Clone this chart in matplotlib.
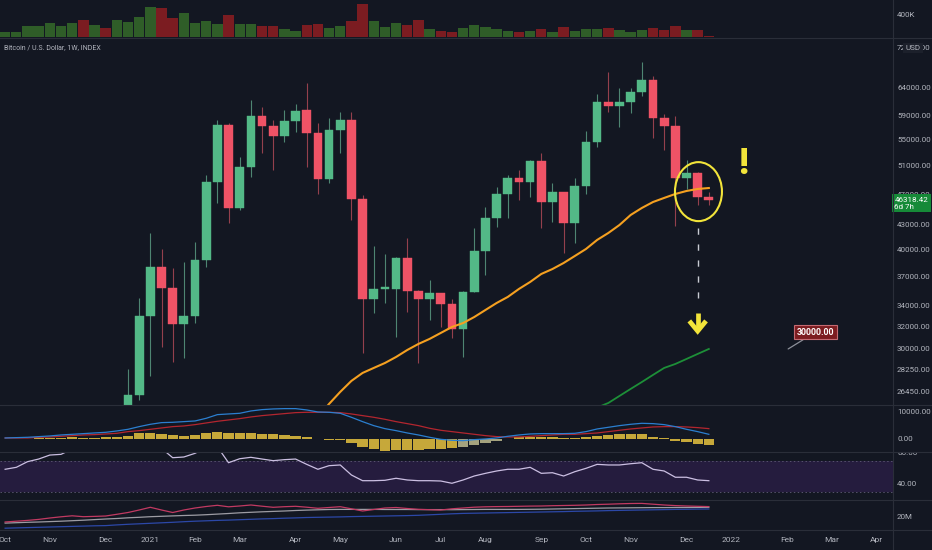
import numpy as np
import matplotlib
matplotlib.use('Agg')
import matplotlib.pyplot as plt
from matplotlib import transforms
from matplotlib.patches import Ellipse
from matplotlib.lines import Line2D

plt.rcParams['font.family'] = ['Roboto', 'DejaVu Sans']

# ---- data (weekly bars, index 0 = week of 21 Dec 2020) ----
bar_idx = np.arange(-11, 53)
opens = [10670, 11370, 11500, 13030, 13800, 15480, 15960, 18400, 18180, 19360, 19170,
         23800, 26240, 33020, 38110, 35790, 32260, 33020, 38860, 48700, 57600,
         45240, 50990, 59090, 57340, 55780, 58230, 60100, 56250, 49130, 56680,
         58400, 46400, 34660, 35690, 35700, 39050, 35540, 34660, 35270, 34200,
         31770, 35440, 39850, 43900, 47040, 49300, 48790, 51840, 46030, 47310,
         43230, 48230, 54710, 61580, 60870, 61480, 63350, 65600, 58750, 57340,
         49360, 50110, 46630]
highs = [11490, 11720, 13200, 14030, 15960, 16480, 18810, 19480, 19910, 19400, 24300,
         28300, 34800, 42000, 40080, 37930, 38670, 40980, 49740, 58340, 57800,
         52460, 61790, 60680, 58340, 60100, 61150, 65050, 57820, 58660, 59810,
         59810, 46900, 40500, 39540, 39230, 41390, 35600, 36660, 35300, 34660,
         35500, 42600, 45380, 48090, 49740, 50490, 51900, 53000, 48540, 47400,
         49280, 56530, 62870, 67180, 64000, 64000, 69140, 66300, 59450, 59000,
         52000, 50200, 47340]
lows = [10540, 11200, 11420, 12950, 13220, 14800, 15800, 16200, 18000, 17580, 19000,
        22400, 25900, 27700, 30200, 28910, 29200, 32330, 38110, 45820, 43230,
        45000, 49400, 53090, 50490, 54790, 56410, 50990, 47080, 48540, 52990,
        43650, 29630, 33340, 34260, 31040, 33440, 28780, 32640, 32010, 30950,
        29340, 35400, 37200, 42810, 43940, 46260, 46600, 42600, 43430, 39620,
        40790, 47040, 54020, 59720, 57220, 59630, 62560, 55360, 53500, 42930,
        47760, 45600, 45600]
closes = [11370, 11500, 13030, 13800, 15480, 15960, 18400, 18180, 19150, 19170, 23800,
          26240, 33020, 38110, 35790, 32260, 33020, 38860, 48700, 57510, 45240,
          50990, 59090, 57340, 55780, 58230, 59980, 56250, 49130, 56680, 58340,
          46400, 34660, 35690, 35900, 39050, 35540, 34660, 35270, 34190, 31770,
          35440, 39850, 43900, 47040, 49280, 48790, 51840, 46030, 47310, 43230,
          48230, 54710, 61580, 60870, 61480, 63350, 65600, 58750, 57340, 49360,
          50110, 46630, 46318]
volume_k = [102, 90, 203, 203, 264, 203, 264, 310, 221, 161, 310,
            282, 359, 538, 520, 341, 431, 264, 300, 239, 400, 239, 239, 210, 210,
            144, 120, 221, 239, 161, 203, 300, 597, 300, 179, 251, 221, 310, 144,
            113, 102, 161, 221, 192, 144, 113, 95, 113, 144, 102, 192, 120, 144,
            144, 161, 131, 102, 131, 161, 131, 203, 131, 131, 23]

ma_orange_idx = np.arange(17, 53)
ma_orange = [24600, 25570, 26480, 27340, 27980, 28390, 28800, 29310, 29910, 30440,
             30890, 31430, 31980, 32350, 32920, 33600, 34290, 34900, 35720, 36450,
             37310, 37850, 38520, 39310, 40120, 41190, 42030, 43020, 44290, 45200,
             45990, 46540, 47080, 47490, 47770, 47900]
ma_green_idx = np.arange(42, 53)
ma_green = [25300, 25640, 26170, 26710, 27250, 27820, 28390, 28720, 29140, 29570, 30000]

macd = [494, 618, 741, 988, 1235, 1606, 1853, 2100, 2347, 2594, 3088,
        3705, 4693, 5558, 6175, 6299, 6546, 6793, 7781, 9139, 9386, 9633, 10498,
        10992, 11239, 11362, 11362, 10868, 10127, 10004, 9633, 8151, 6546, 5064,
        3952, 3211, 2347, 1606, 741, 0, -371, -494, -124, 124, 494, 1112, 1606,
        1976, 2100, 2100, 2100, 2223, 2841, 3829, 4446, 5064, 5558, 5928, 5805,
        5434, 4693, 3705, 2841, 1853]
signal = [494, 494, 494, 741, 865, 1112, 1359, 1606, 1729, 1976, 2223,
          2841, 3211, 3705, 4199, 4693, 4940, 5434, 6052, 6669, 7163, 7657, 8275,
          8769, 9139, 9510, 9880, 10004, 10004, 10004, 9880, 9386, 8769, 8151,
          7410, 6546, 5805, 5064, 4076, 3335, 2841, 2347, 1853, 1359, 988, 865,
          865, 1112, 1359, 1606, 1853, 1853, 2100, 2347, 2841, 3335, 3829, 4199,
          4570, 4693, 4693, 4570, 4323, 3952]
macd_hist = [124, 124, 247, 371, 494, 618, 741, 618, 618, 741, 988,
             1235, 2223, 2223, 1976, 1606, 1359, 1606, 2223, 2841, 2223, 2223, 2223,
             2100, 1853, 1482, 1235, 741, 0, -124, -247, -1235, -2717, -3705,
             -4199, -3952, -3952, -3952, -3705, -3458, -3335, -2964, -2100, -1235,
             -494, 247, 741, 988, 741, 741, 371, 371, 741, 1359, 1606, 1853, 1853,
             1853, 988, 618, -494, -865, -1729, -2100]
rsi = [59.2, 61.7, 68.9, 72.3, 77.4, 78.3, 85, 84, 86, 84, 90,
       92, 94, 93, 86, 74.0, 74.9, 79.6, 87, 88, 67.6, 72.7, 74.5, 72.3, 70.2,
       71.5, 72.3, 65.5, 59.2, 63.8, 64.7, 51.9, 44.6, 44.6, 45.1, 47.7, 45.5,
       44.6, 44.6, 44.2, 41.3, 45.5, 50.6, 54.0, 57.0, 59.2, 59.2, 61.7, 54.0,
       54.8, 50.6, 56.1, 60.4, 65.5, 64.7, 64.7, 66.3, 67.6, 59.2, 57.0, 49.0,
       49.0, 45.5, 44.6]
ind_pink = [14.7, 15.5, 16.3, 17.3, 18.7, 19.9, 20.9, 20.0, 20.3, 20.7, 22.4,
            24.2, 26.7, 29.4, 26.7, 24.2, 26.7, 28.7, 30.2, 31.4, 29.9, 30.7, 31.7,
            30.5, 29.4, 30.0, 30.4, 29.5, 28.4, 29.2, 30.0, 27.9, 25.7, 27.2, 28.7,
            29.2, 28.2, 27.4, 27.0, 26.7, 27.9, 28.7, 29.5, 29.9, 30.1, 30.2, 30.4,
            30.6, 30.7, 31.0, 31.2, 31.4, 31.7, 32.2, 32.5, 32.9, 33.2, 33.3, 32.5,
            31.7, 31.1, 30.7, 30.4, 30.1]
ind_gray = [13.6, 14.0, 14.4, 14.7, 15.1, 15.5, 16.0, 16.5, 17.1, 17.7, 18.2,
            18.9, 19.4, 20.0, 20.4, 20.8, 21.2, 21.5, 22.0, 22.6, 23.2, 23.9, 24.4,
            24.9, 25.3, 25.7, 26.2, 26.6, 26.9, 27.2, 27.3, 27.3, 27.3, 27.3, 27.2,
            27.2, 27.2, 27.1, 27.1, 27.1, 27.0, 27.1, 27.2, 27.3, 27.3, 27.3, 27.3,
            27.4, 27.5, 27.7, 27.9, 28.1, 28.3, 28.5, 28.7, 28.8, 28.9, 29.0, 29.1,
            29.1, 29.2, 29.2, 29.3, 29.4]
ind_blue = [8.5, 8.8, 9.1, 9.4, 9.7, 10.0, 10.3, 10.6, 10.9, 11.1, 11.8,
            12.4, 12.9, 13.4, 13.9, 14.4, 15.0, 15.5, 15.9, 16.3, 16.6, 17.0, 17.4,
            17.8, 18.1, 18.5, 18.8, 19.2, 19.4, 19.6, 19.8, 20.1, 20.3, 20.5, 20.7,
            20.9, 21.1, 21.4, 21.9, 22.4, 22.9, 23.3, 23.5, 23.7, 23.9, 24.1, 24.3,
            24.5, 24.7, 24.9, 25.1, 25.4, 25.6, 25.8, 26.1, 26.3, 26.5, 26.7, 26.9,
            27.1, 27.3, 27.4, 27.6, 27.7]

price_ticks = [72000, 64000, 59000, 55000, 51000, 47000, 43000, 40000,
               37000, 34000, 32000, 30000, 28250, 26450]
month_ticks = [-11, -7, -2, 2, 6, 10, 15, 19, 24, 28, 32, 37, 41, 45, 50, 54, 59, 63, 67]
month_labels = ['Oct', 'Nov', 'Dec', '2021', 'Feb', 'Mar', 'Apr', 'May', 'Jun', 'Jul',
                'Aug', 'Sep', 'Oct', 'Nov', 'Dec', '2022', 'Feb', 'Mar', 'Apr']

last_price = 46318.42
target_price = 30000
target_bar = 59.1
focus_bar = 51

# ---- style ----
BG = '#131722'
SEP = '#2a2e39'
TXT = '#b2b5be'
UP = '#53b987'
DOWN = '#ef5366'
YELLOW = '#f2e43a'
W, H = 932, 550
BAR_PX, BAR0_PX = 11.17, 128
AXIS_PX = 893
XL, XR = -BAR0_PX / BAR_PX, (W - BAR0_PX) / BAR_PX
LAB_X = 897 / W

fig = plt.figure(figsize=(W / 100, H / 100), dpi=100, facecolor=BG)


def pane(top, bottom):
    ax = fig.add_axes([0, 1 - bottom / H, 1, (bottom - top) / H])
    ax.set_facecolor(BG)
    ax.set_xlim(XL, XR)
    for s in ax.spines.values():
        s.set_visible(False)
    ax.set_xticks([])
    ax.set_yticks([])
    return ax


def axis_label(ax, y, s, **kw):
    tr = transforms.blended_transform_factory(ax.transAxes, ax.transData)
    return ax.text(LAB_X, y, s, transform=tr, color=TXT, fontsize=5.8,
                   va='center', ha='left', clip_on=True, **kw)


o = np.array(opens, float)
c = np.array(closes, float)
up = c >= o

# volume pane
axv = pane(0, 38)
axv.set_ylim(-12.6, 669)
axv.bar(bar_idx, volume_k, width=0.93,
        color=np.where(up, '#2f5d28', '#7b1c21'), linewidth=0)
axis_label(axv, 400, '400K')

# main price pane
ax = pane(38, 405)
ax.set_yscale('log')
ax.set_ylim(25490, 74090)
ax.set_xlim(XL, XR)
ax.set_yticks([])
ax.minorticks_off()
ax.vlines(bar_idx, lows, highs, colors=np.where(up, '#4e8572', '#94404d'),
          linewidth=0.8, zorder=2)
ax.bar(bar_idx, np.abs(c - o), bottom=np.minimum(o, c), width=0.78,
       color=np.where(up, UP, DOWN), edgecolor=np.where(up, UP, DOWN),
       linewidth=0.3, zorder=3)
ax.plot(ma_orange_idx, ma_orange, color='#f5a020', lw=1.5, zorder=4)
ax.plot(ma_green_idx, ma_green, color='#1d8f38', lw=1.3, zorder=4)

for v in price_ticks:
    axis_label(ax, v, f'{v:.2f}')
trv = transforms.blended_transform_factory(ax.transAxes, ax.transData)
ax.text(913 / W, 72000, 'USD', transform=trv, color=TXT, fontsize=5.8,
        ha='center', va='center', zorder=6,
        bbox=dict(boxstyle='square,pad=0.25', fc='#1c202b', ec='none'))
# current price tag sits just below the 47000 label, hiding its lower half
ax.annotate('46318.42\n6d 7h', xy=(894.5 / W, last_price), xycoords=trv,
            xytext=(0, 2.2), textcoords='offset points', ha='left', va='top',
            fontsize=5.8, color='white', linespacing=1.2, zorder=7,
            bbox=dict(boxstyle='square,pad=0.32', fc='#168a38', ec='none'))

ax.text(4 / W, 1 - 10 / 367, 'Bitcoin / U.S. Dollar, 1W, INDEX', transform=ax.transAxes,
        color=TXT, fontsize=5, va='center', ha='left')

# annotations
circ_tr = fig.dpi_scale_trans + transforms.ScaledTranslation(focus_bar + 0.07, 47400, ax.transData)
ax.add_patch(Ellipse((0, 0), 0.47, 0.59, transform=circ_tr, fill=False,
                     edgecolor=YELLOW, linewidth=1.5, zorder=6))
ax.plot([focus_bar, focus_bar], [42700, 34800], color='#c8cbd3', lw=1.0,
        dashes=(4.5, 7), zorder=5)
ax.plot([focus_bar, focus_bar], [33300, 31700], color=YELLOW, lw=3.4,
        solid_capstyle='butt', zorder=6)
ax.plot([focus_bar - 0.75, focus_bar, focus_bar + 0.75], [32550, 31600, 32550],
        color=YELLOW, lw=3.4, solid_joinstyle='miter', solid_capstyle='butt', zorder=6)
ax.text(55.1, 49900, '!', color=YELLOW, fontsize=26, fontweight='black',
        ha='center', va='baseline', zorder=6)
ax.annotate('30000.00', xy=(target_bar, target_price), xytext=(19.5, 12),
            textcoords='offset points', ha='center', va='center', fontsize=6.3,
            color='white', fontweight='bold', zorder=7,
            bbox=dict(boxstyle='square,pad=0.3', fc='#7c1c20', ec='#c46a72', lw=0.8),
            arrowprops=dict(arrowstyle='-', color='#8d909a', lw=0.9,
                            shrinkA=0, shrinkB=0))

# MACD pane
axm = pane(405, 452)
axm.set_ylim(-4704, 12705)
hist = np.array(macd_hist, float)
prev = np.concatenate([[hist[0]], hist[:-1]])
hcol = np.where((hist < 0) & (hist - prev >= 300), '#a4a27e', '#c6a83a')
axm.bar(bar_idx, hist, width=0.92, color=hcol, linewidth=0, zorder=2)
axm.plot(bar_idx, signal, color='#b3262f', lw=0.9, zorder=3)
axm.plot(bar_idx, macd, color='#2b7fd0', lw=0.9, zorder=3)
axis_label(axm, 10000, '10000.00')
axis_label(axm, 0, '0.00')

# RSI pane
axr = pane(452, 500)
axr.set_ylim(19.9, 81.3)
axr.axhspan(30, 70, xmin=0, xmax=AXIS_PX / W, color='#251c3e', lw=0, zorder=1)
for lvl in (70, 30):
    axr.axhline(lvl, xmin=0, xmax=AXIS_PX / W, color='#57536d', lw=0.7,
                dashes=(1.5, 2.5), zorder=2)
axr.plot(bar_idx, rsi, color='#cbbfe2', lw=0.9, zorder=3)
axis_label(axr, 80, '80.00')
axis_label(axr, 40, '40.00')

# lower indicator pane
axo = pane(500, 530)
axo.set_ylim(6.7, 36.7)
axo.plot(bar_idx, ind_blue, color='#2c48a8', lw=0.9)
axo.plot(bar_idx, ind_gray, color='#9d9ca4', lw=0.9)
axo.plot(bar_idx, ind_pink, color='#c23a62', lw=0.9)
axis_label(axo, 20, '20M')
axo.set_xticks(month_ticks)
axo.set_xticklabels(month_labels)
axo.tick_params(axis='x', length=0, pad=5, labelsize=6, labelcolor=TXT)

# pane separators and price-axis border
for yy in (38, 405, 452, 500, 530):
    fig.add_artist(Line2D([0, 1], [1 - yy / H] * 2, transform=fig.transFigure,
                          color=SEP, lw=0.8, zorder=10))
fig.add_artist(Line2D([AXIS_PX / W] * 2, [0, 1], transform=fig.transFigure,
                      color=SEP, lw=0.8, zorder=10))

fig.savefig('out.png', dpi=100, facecolor=BG)
